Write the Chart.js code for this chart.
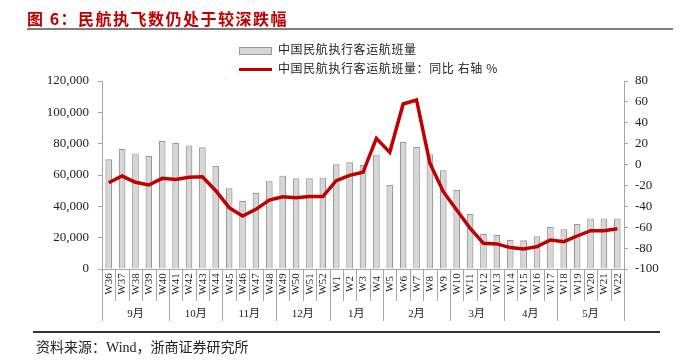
<!DOCTYPE html>
<html>
<head>
<meta charset="utf-8">
<script src="https://cdn.jsdelivr.net/npm/chart.js@4"></script>
<style>
  body { margin: 0; background: #fff; }
  #wrap { position: relative; width: 681px; height: 363px; overflow: hidden; }
  #c { position: absolute; left: 0; top: 0; }
  .title { position: absolute; left: 27px; top: 6px; font: bold 16px "Noto Sans CJK SC", sans-serif; letter-spacing: 1.5px; color: #c00000; white-space: nowrap; }
  .rule-top { position: absolute; left: 27px; top: 28px; width: 646px; height: 2px; background: #7f7f7f; }
  .rule-bot { position: absolute; left: 33px; top: 331px; width: 627px; height: 1.5px; background: #333; }
  .source { position: absolute; left: 36px; top: 336px; font: 14px "Liberation Serif", "Noto Sans CJK SC", serif; color: #222; white-space: nowrap; }
  .legend { position: absolute; left: 239px; font: 12px "Noto Sans CJK SC", sans-serif; letter-spacing: 0.6px; color: #222; white-space: nowrap; }
  .legend span.box { display: inline-block; width: 31px; height: 6px; background: #d6d6d6; border: 1px solid #9a9a9a; vertical-align: middle; margin-right: 6px; }
  .legend span.ln { display: inline-block; width: 33px; height: 3px; background: #c00000; vertical-align: middle; margin-right: 6px; }
</style>
</head>
<body>
<div id="wrap">
  <canvas id="c" width="681" height="363"></canvas>
  <div class="title">图 6：民航执飞数仍处于较深跌幅</div>
  <div class="rule-top"></div>
  <div class="legend" style="top:40px"><span class="box"></span>中国民航执行客运航班量</div>
  <div class="legend" style="top:59px"><span class="ln"></span>中国民航执行客运航班量：同比 右轴 %</div>
  <div class="rule-bot"></div>
  <div class="source">资料来源：Wind，浙商证券研究所</div>
</div>
<script>
const weeks = ["W36","W37","W38","W39","W40","W41","W42","W43","W44","W45","W46","W47","W48",
  "W49","W50","W51","W52","W1","W2","W3","W4","W5","W6","W7","W8","W9","W10","W11","W12",
  "W13","W14","W15","W16","W17","W18","W19","W20","W21","W22"];
const months = ["9月","10月","11月","12月","1月","2月","3月","4月","5月"];
const monthSizes = [5, 4, 4, 4, 4, 5, 4, 4, 5];
const flights = [70000, 76800, 73800, 72300, 81700, 80600, 78900, 77700, 65700, 51500, 43600, 48700, 56000,
  59600, 57900, 57900, 58300, 66800, 68100, 66400, 73000, 53600, 81100, 77900, 73200, 63000, 50400, 35300, 22500,
  21900, 18700, 18300, 20900, 27000, 25300, 28700, 32300, 32300, 32300];
const yoy = [-17.4, -11, -17, -19.6, -13.2, -14.2, -12.2, -11.6, -25, -41.3, -49.3, -42.9, -34,
  -30.8, -31.7, -30.7, -30.7, -15.4, -10.3, -7.4, 25.1, 11.7, 58, 61.8, 1.2, -26, -43.5, -61, -75.4,
  -76, -79.5, -80.9, -78.6, -72.2, -73.8, -68.4, -63.3, -63.3, -61.4];

const axisColor = "#a6a6a6";
const tickFont = { family: "Liberation Serif", size: 13 };

// category labels, separators and month groups under the x axis
const xLabels = {
  id: "xLabels",
  afterDraw(chart) {
    const ctx = chart.ctx;
    const x = chart.scales.x;
    const area = chart.chartArea;
    const bottom = area.bottom;
    const edge = (i) => {
      if (i <= 0) return area.left;
      if (i >= weeks.length) return area.right;
      return (x.getPixelForValue(i - 1) + x.getPixelForValue(i)) / 2;
    };
    ctx.save();
    ctx.strokeStyle = axisColor;
    ctx.lineWidth = 1;
    ctx.beginPath();
    ctx.moveTo(area.left, bottom + 0.5);
    ctx.lineTo(area.right, bottom + 0.5);
    ctx.stroke();

    const groupEdges = [0];
    monthSizes.forEach((n) => groupEdges.push(groupEdges[groupEdges.length - 1] + n));

    for (let i = 0; i <= weeks.length; i++) {
      const px = Math.round(edge(i)) + 0.5;
      const len = groupEdges.includes(i) ? 52 : 32;
      ctx.beginPath();
      ctx.moveTo(px, bottom);
      ctx.lineTo(px, bottom + len);
      ctx.stroke();
    }

    ctx.fillStyle = "#222";
    ctx.font = "11px 'Liberation Serif', serif";
    ctx.textAlign = "center";
    ctx.textBaseline = "middle";
    weeks.forEach((w, i) => {
      ctx.save();
      ctx.translate(x.getPixelForValue(i) + 0.5, bottom + 15);
      ctx.rotate(-Math.PI / 2);
      ctx.fillText(w, 0, 0);
      ctx.restore();
    });

    ctx.font = "11px 'Liberation Serif', 'Noto Sans CJK SC', serif";
    months.forEach((m, k) => {
      const cx = (edge(groupEdges[k]) + edge(groupEdges[k + 1])) / 2;
      ctx.fillText(m, cx, bottom + 45);
    });
    ctx.restore();
  }
};

new Chart(document.getElementById("c"), {
  data: {
    labels: weeks,
    datasets: [
      {
        type: "line",
        label: "中国民航执行客运航班量：同比 右轴 %",
        data: yoy,
        yAxisID: "y1",
        borderColor: "#c00000",
        borderWidth: 3.5,
        pointRadius: 0,
        tension: 0,
        order: 0,
      },
      {
        type: "bar",
        label: "中国民航执行客运航班量",
        data: flights,
        yAxisID: "y",
        backgroundColor: "#d6d6d6",
        borderColor: "#999999",
        borderWidth: 1.2,
        barPercentage: 0.5,
        categoryPercentage: 1,
        order: 1,
      },
    ],
  },
  options: {
    responsive: false,
    animation: false,
    devicePixelRatio: 1,
    layout: { padding: { top: 81, bottom: 94, left: 0, right: 0 } },
    plugins: { legend: { display: false }, tooltip: { enabled: false } },
    scales: {
      x: { display: false },
      y: {
        position: "left",
        min: 0,
        max: 120000,
        afterFit: (s) => { s.width = 102; },
        ticks: {
          stepSize: 20000,
          padding: 9,
          color: "#222",
          font: tickFont,
          callback: (v) => v.toLocaleString("en-US"),
        },
        grid: { drawOnChartArea: false, tickLength: 4, color: axisColor },
        border: { color: axisColor },
      },
      y1: {
        position: "right",
        min: -100,
        max: 80,
        afterFit: (s) => { s.width = 57; },
        ticks: { stepSize: 20, padding: 7, color: "#222", font: tickFont },
        grid: { drawOnChartArea: false, tickLength: 4, color: axisColor },
        border: { color: axisColor },
      },
    },
  },
  plugins: [xLabels],
});
</script>
</body>
</html>
